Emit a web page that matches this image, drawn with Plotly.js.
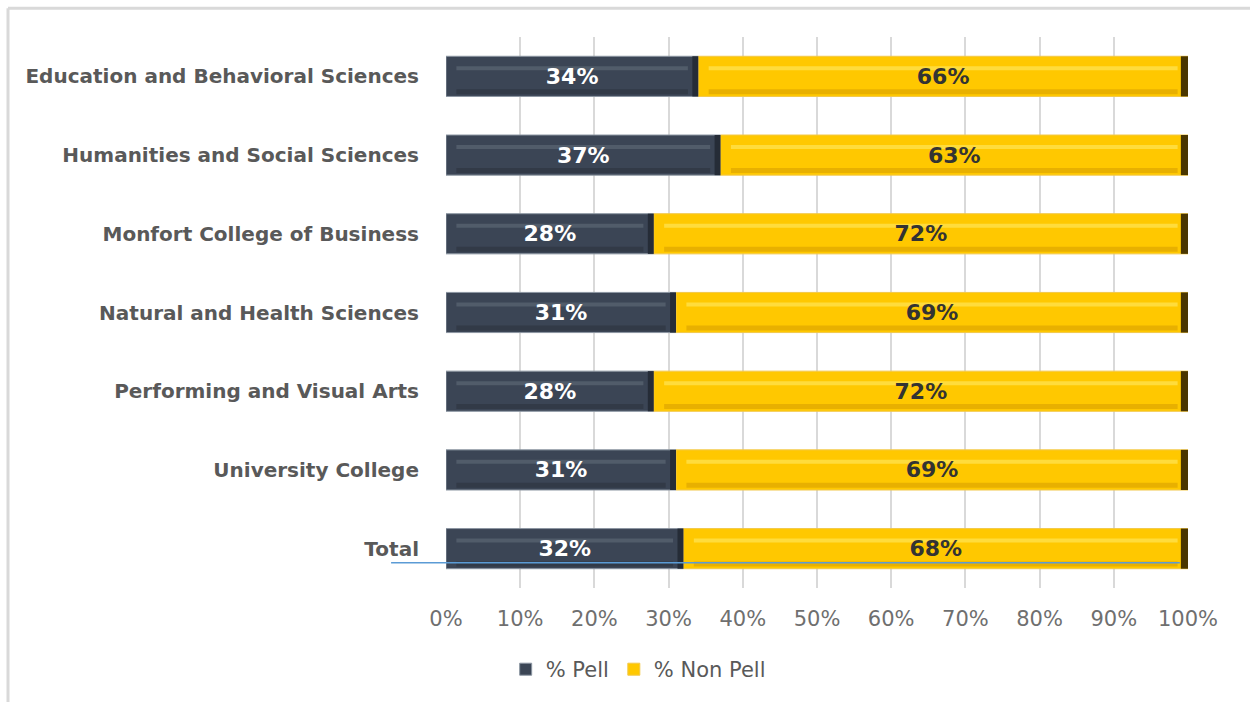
<!DOCTYPE html>
<html>
<head>
<meta charset="utf-8">
<script src="https://cdn.plot.ly/plotly-3.0.1.min.js"></script>
<style>html,body{margin:0;padding:0;background:#fff;}#chart{width:1250px;height:702px;}</style>
</head>
<body>
<div id="chart"></div>
<script>
const categories = [
  "Education and Behavioral Sciences",
  "Humanities and Social Sciences",
  "Monfort College of Business",
  "Natural and Health Sciences",
  "Performing and Visual Arts",
  "University College",
  "Total"
];
const pell = [0.34, 0.37, 0.28, 0.31, 0.28, 0.31, 0.32];
const nonPell = [0.66, 0.63, 0.72, 0.69, 0.72, 0.69, 0.68];
const tickValues = [0, 0.1, 0.2, 0.3, 0.4, 0.5, 0.6, 0.7, 0.8, 0.9, 1.0];
const tickLabels = ["0%", "10%", "20%", "30%", "40%", "50%", "60%", "70%", "80%", "90%", "100%"];

const FONT = "DejaVu Sans, sans-serif";
const pct = v => Math.round(v * 100) + "%";

// bar geometry (category units)
const BW = 0.51, HALF = BW / 2;
const nonBase = pell.slice();
const totals = pell.map((p, i) => p + nonPell[i]);
const END = 0.008, INSET = 0.014;

function bar(name, x, base, color, opts) {
  return Object.assign({
    type: "bar", orientation: "h", name: name,
    y: categories, x: x, base: base,
    width: BW, offset: -HALF,
    marker: {color: color, line: {width: 0}},
    hoverinfo: "skip", showlegend: false
  }, opts || {});
}
function stripe(x, base, color, fromTop, h) {
  return bar("", x, base, color, {width: h / 78.8, offset: -HALF + fromTop / 78.8});
}
function labels(x, base, color) {
  return bar("", x, base, "rgba(0,0,0,0)", {
    text: x.map(pct), textposition: "inside", insidetextanchor: "middle",
    textangle: 0, constraintext: "none",
    textfont: {family: FONT, size: 22, color: color, weight: "bold"}
  });
}

const traces = [
  bar("% Pell", pell, pell.map(() => 0), "#3b4555",
      {showlegend: true, marker: {color: "#3b4555", line: {color: "#8c96a2", width: 1}}}),
  bar("% Non Pell", nonPell, nonBase, "#ffc800",
      {showlegend: true, marker: {color: "#ffc800", line: {color: "#f2c84a", width: 1}}}),
  // bevel highlights / shadows
  stripe(pell.map(p => p - 2 * INSET), pell.map(() => INSET), "#515c6a", 10, 4),
  stripe(pell.map(p => p - 2 * INSET), pell.map(() => INSET), "#323a47", 33, 5),
  stripe(nonPell.map(v => v - 2 * INSET), nonBase.map(b => b + INSET), "#ffdc3c", 10, 4),
  stripe(nonPell.map(v => v - 2 * INSET), nonBase.map(b => b + INSET), "#e8b000", 33, 5),
  bar("", pell.map(() => END), pell.map(p => p - END), "#252c37"),
  bar("", nonPell.map(() => END * 1.2), totals.map(t => t - END * 1.2), "#4a3600"),
  labels(pell, pell.map(() => 0), "#ffffff"),
  labels(nonPell, nonBase, "#333333")
];

const layout = {
  width: 1250, height: 702,
  margin: {l: 446, r: 62, t: 37, b: 114},
  paper_bgcolor: "#ffffff", plot_bgcolor: "#ffffff",
  barmode: "overlay",
  showlegend: true,
  legend: {
    orientation: "h", x: 0.259, xanchor: "center", y: -0.148, yanchor: "middle",
    font: {family: FONT, size: 21, color: "#595959"},
    traceorder: "normal", itemwidth: 30
  },
  xaxis: {
    range: [0, 1], tickvals: tickValues, ticktext: tickLabels,
    showgrid: true, gridcolor: "#d9d9d9", gridwidth: 2,
    zeroline: false, showline: false, ticks: "",
    ticklabelstandoff: 16,
    tickfont: {family: FONT, size: 21, color: "#6f6f6f"},
    fixedrange: true
  },
  yaxis: {
    autorange: "reversed", type: "category",
    showgrid: false, zeroline: false, showline: false, ticks: "",
    ticklabelstandoff: 26,
    tickfont: {family: FONT, size: 20, color: "#595959", weight: "bold"},
    fixedrange: true
  },
  shapes: [
    {type: "line", xref: "paper", yref: "paper", x0: -0.5903, x1: 1.09, y0: 1.052, y1: 1.052,
     line: {color: "#d9d9d9", width: 3}},
    {type: "line", xref: "paper", yref: "paper", x0: -0.5903, x1: -0.5903, y0: 1.052, y1: -0.21,
     line: {color: "#d9d9d9", width: 3}},
    {type: "line", xref: "paper", yref: "paper", x0: -0.074, x1: 0.989, y0: 0.046, y1: 0.046,
     line: {color: "#5b9bd5", width: 1.5}, layer: "above"}
  ]
};

Plotly.newPlot("chart", traces, layout, {displayModeBar: false, staticPlot: true});
</script>
</body>
</html>
